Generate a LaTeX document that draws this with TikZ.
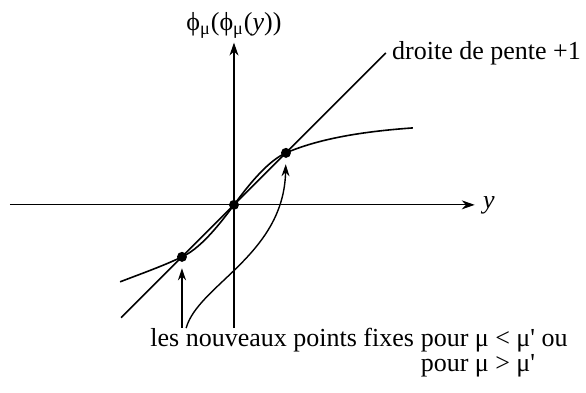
\documentclass[tikz,border=0pt]{standalone}
\usepackage{fontspec}
\setmainfont{Liberation Serif}
\usetikzlibrary{positioning, arrows.meta, calc}
\tikzset{
  axe/.style={draw, line width=0.6pt, -{Stealth[length=6.5pt,width=4.5pt]}},
  courbe/.style={draw, line width=0.8pt},
  fixe/.style={circle, fill=black, inner sep=0pt, minimum size=5pt},
  fleche/.style={draw, line width=0.7pt, -{Stealth[length=6pt,width=4pt]}, shorten >=3pt},
  legende/.style={font=\fontsize{13}{15}\selectfont, inner sep=1pt}
}

\begin{document}
\begin{tikzpicture}[x=26pt, y=26pt]
  \useasboundingbox (-4.5,-3.6) rectangle (6.77,3.94);
  % axes
  \coordinate (xg) at (-4.31,0);
  \coordinate (xd) at (4.63,0);
  \coordinate (yb) at (0,-2.37);
  \coordinate (yh) at (0,3.12);
  \draw[axe] (xg) -- (xd);
  \draw[axe] (yb) -- (yh);
  \node[legende, anchor=west, xshift=3pt] (ylab) at (xd) {\itshape y};
  \node[legende, anchor=south, yshift=1pt] (flab) at (yh) {ϕ\textsubscript{μ}(ϕ\textsubscript{μ}(\textit{y}))};

  % droite de pente +1
  \coordinate (dA) at (-2.17,-2.17);
  \coordinate (dB) at (2.92,2.92);
  \draw[courbe] (dA) -- (dB);
  \node[legende, anchor=west, xshift=2pt] (dlab) at (dB) {droite de pente +1};

  % la courbe en S
  \draw[courbe] (-2.19,-1.48) .. controls (-1.8,-1.33) and (-1.35,-1.17) .. (-1,-1)
    .. controls (-0.67,-0.85) and (-0.33,-0.45) .. (0,0)
    .. controls (0.33,0.45) and (0.67,0.85) .. (1,1)
    .. controls (1.7,1.3) and (2.6,1.42) .. (3.44,1.48);

  % points fixes
  \node[fixe] (p0) at (0,0) {};
  \node[fixe] (pm) at (-1,-1) {};
  \node[fixe] (pp) at (1,1) {};

  % legende du bas
  \node[legende, inner sep=0pt, anchor=base west] (lbA) at (-1.615,-2.72) {les nouveaux points fixes};
  \node[legende, inner sep=0pt, anchor=base west] (lbB) at ([xshift=3pt]lbA.base east) {pour μ < μ\textquotesingle{} ou};
  \node[legende, inner sep=0pt, anchor=base west] (lbC) at ([yshift=-12.5pt]lbB.base west) {pour μ > μ\textquotesingle};

  % fleches vers les points fixes
  \coordinate (a1) at (-1.0,-2.37);
  \coordinate (a2) at (-0.92,-2.37);
  \draw[fleche] (a1) -- (pm);
  \draw[fleche] (a2) .. controls (-0.69,-1.54) and (0.96,-0.96) .. (pp);
\end{tikzpicture}
\end{document}
